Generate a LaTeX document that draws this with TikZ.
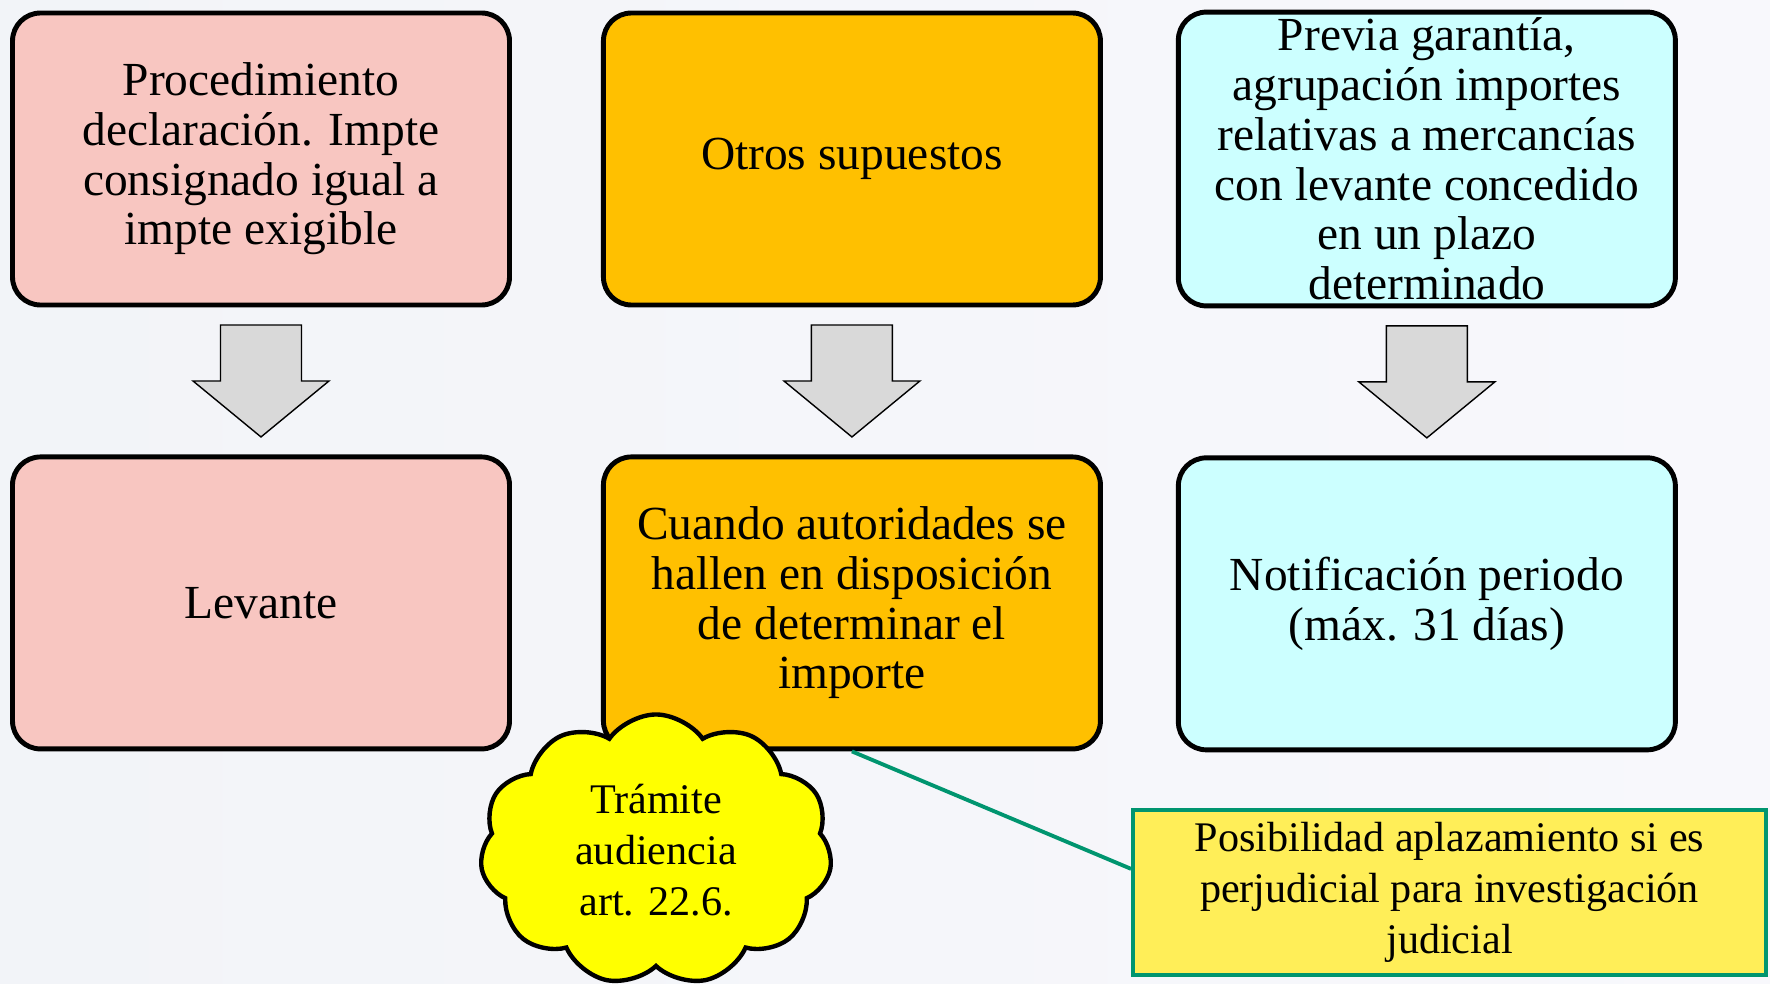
\documentclass[tikz,border=0pt]{standalone}
\usepackage{fontspec}
\setmainfont{Liberation Serif}
\usepackage{tikz}
\usetikzlibrary{positioning,calc,shapes.symbols}
\definecolor{rosa}{HTML}{F8C6C1}
\definecolor{oro}{HTML}{FFC000}
\definecolor{cian}{HTML}{CCFFFF}
\definecolor{grisflecha}{HTML}{D9D9D9}
\definecolor{amarillo}{HTML}{FFFF00}
\definecolor{amarillonota}{HTML}{FFEE58}
\definecolor{verdenota}{HTML}{00956F}
\definecolor{fondoA}{HTML}{F2F4F8}
\definecolor{fondoB}{HTML}{F8F8FC}
\newcommand{\Grande}{\fontsize{27}{28.3}\selectfont}
\newcommand{\Menor}{\fontsize{24}{28.9}\selectfont}

\begin{document}
\begin{tikzpicture}[node distance=2.94cm,
    caja/.style={draw, line width=2.8pt, rounded corners=0.56cm, minimum width=9.94cm,
                 minimum height=5.84cm, align=center, font=\Grande},
    flecha/.style={draw, line width=0.8pt, fill=grisflecha},
    nube/.style={cloud, cloud puffs=11, cloud puff arc=110, draw, line width=2.5pt,
                 fill=amarillo, minimum width=7.04cm, minimum height=5.3cm, align=center, font=\Menor},
    nota/.style={draw=verdenota, line width=2.2pt, fill=amarillonota, minimum width=12.66cm,
                 minimum height=3.3cm, align=center, font=\Menor},
    linea/.style={verdenota, line width=2.2pt}]
    \useasboundingbox (0,0) rectangle (35.4,-19.66);
    \shade[left color=fondoA, right color=fondoB] (0,0) rectangle (35.4,-19.66);

    \node (SA) [caja, fill=rosa] at (5.22,-3.18) {Procedimiento\\declaración. Impte\\consignado igual a\\impte exigible};
    \node (SB) [caja, fill=oro, right=1.78cm of SA] {Otros supuestos};
    \node (SC) [caja, fill=cian, right=1.46cm of SB] {Previa garantía,\\agrupación importes\\relativas a mercancías\\con levante concedido\\en un plazo\\determinado};
    \node (RA) [caja, fill=rosa, below=of SA] {Levante};
    \node (RB) [caja, fill=oro, below=of SB] {Cuando autoridades se\\hallen en disposición\\de determinar el\\importe};
    \node (RC) [caja, fill=cian, below=of SC] {Notificación periodo\\(máx. 31 días)};

    \foreach \s/\r in {SA/RA, SB/RB, SC/RC}
        \draw[flecha] ($(\s.south)!0.5!(\r.north)$) ++(-0.81,1.12) -- ++(1.62,0) -- ++(0,-1.12)
            -- ++(0.55,0) -- ++(-1.36,-1.12) -- ++(-1.36,1.12) -- ++(0.55,0) -- cycle;

    % nota y nube
    \node (Apl) [nota] at (28.99,-17.85) {Posibilidad aplazamiento si es\\perjudicial para investigación\\judicial};
    \coordinate (AplW) at ($(Apl.north west)!0.36!(Apl.south west)$);
    \draw[linea] (RB.south) -- (AplW);
    \node (Aud) [nube] at (13.12,-17.0) {Trámite\\audiencia\\art. 22.6.};
\end{tikzpicture}
\end{document}
